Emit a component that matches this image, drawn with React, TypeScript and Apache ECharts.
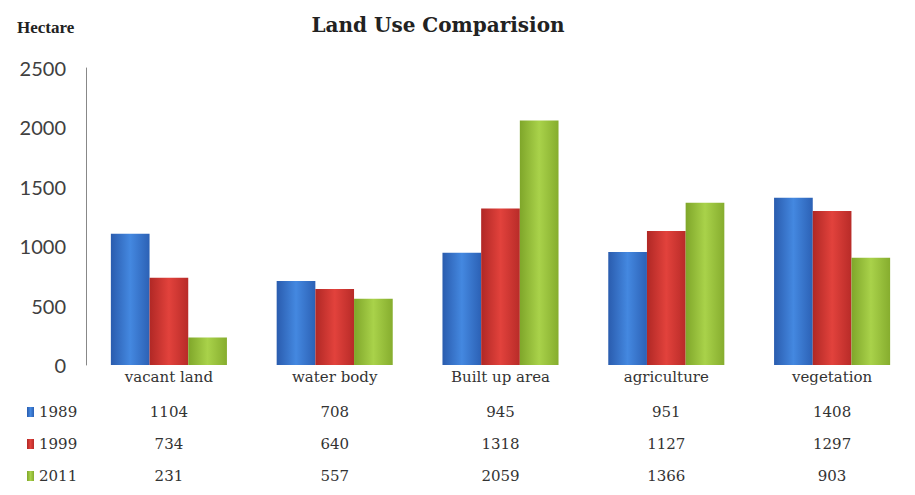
import React, { useEffect, useRef } from "react";
import * as echarts from "echarts";

const categories = ["vacant land", "water body", "Built up area", "agriculture", "vegetation"];
const years = ["1989", "1999", "2011"];
const values1989 = [1104, 708, 945, 951, 1408];
const values1999 = [734, 640, 1318, 1127, 1297];
const values2011 = [231, 557, 2059, 1366, 903];
const yTicks = [0, 500, 1000, 1500, 2000, 2500];

const colorStops = [
  ["#2a5cae", "#4488e0", "#2c61b5"],
  ["#b02825", "#e2423c", "#b82b28"],
  ["#7fa62a", "#a9d24a", "#86ad2e"],
];

export default function App() {
  const ref = useRef<HTMLDivElement>(null);
  useEffect(() => {
    if (!ref.current) return;
    const chart = echarts.init(ref.current, undefined, { renderer: "svg" });
    const seriesData = [values1989, values1999, values2011];
    const grad = (c: string[]) =>
      new echarts.graphic.LinearGradient(0, 0, 1, 0, [
        { offset: 0, color: c[0] },
        { offset: 0.5, color: c[1] },
        { offset: 1, color: c[2] },
      ]);
    const serif = "DejaVu Serif";
    const rowAxis = (vals: number[], offset: number) => ({
      type: "category",
      data: vals.map((v) => String(v)),
      position: "bottom",
      offset,
      axisLine: { show: false },
      axisTick: { show: false },
      axisLabel: { fontFamily: serif, fontSize: 15, color: "#333", margin: 4, interval: 0 },
    });
    chart.setOption({
      animation: false,
      title: [
        {
          text: "Land Use Comparision",
          left: 433,
          textAlign: "center",
          top: 10,
          textStyle: { fontFamily: "DejaVu Serif", fontWeight: "bold", fontSize: 20, color: "#222" },
        },
        {
          text: "Hectare",
          left: 12,
          top: 14,
          textStyle: { fontFamily: "Liberation Serif", fontWeight: "bold", fontSize: 17, color: "#222" },
        },
      ],
      legend: {
        orient: "vertical",
        left: 22,
        top: 399,
        itemWidth: 7,
        itemHeight: 10,
        itemGap: 16,
        icon: "rect",
        data: years,
        textStyle: { fontFamily: serif, fontSize: 15, color: "#333", lineHeight: 16 },
      },
      grid: { left: 86, top: 68, bottom: 130, width: 845 },
      xAxis: [
        {
          type: "category",
          data: categories,
          axisLine: { show: false },
          axisTick: { show: false },
          axisLabel: { fontFamily: serif, fontSize: 15, color: "#333", margin: 4, interval: 0 },
        },
        rowAxis(values1989, 35),
        rowAxis(values1999, 67),
        rowAxis(values2011, 99),
      ],
      yAxis: {
        type: "value",
        min: 0,
        max: 2500,
        interval: 500,
        axisLine: { show: true, lineStyle: { color: "#888", width: 1 } },
        axisTick: { show: false },
        splitLine: { show: false },
        axisLabel: {
          fontFamily: "Lato",
          fontSize: 20,
          color: "#404040",
          margin: 20,
          formatter: (v: number) => (yTicks.includes(v) ? String(v) : ""),
        },
      },
      series: years.map((y, i) => ({
        name: y,
        type: "bar",
        xAxisIndex: 0,
        data: seriesData[i],
        barGap: "0%",
        barCategoryGap: "30%",
        itemStyle: { color: grad(colorStops[i]) },
      })),
    });
    return () => chart.dispose();
  }, []);
  return (
    <div
      ref={ref}
      style={{ position: "fixed", left: 0, top: 0, width: 915, height: 495, background: "#fff" }}
    />
  );
}
